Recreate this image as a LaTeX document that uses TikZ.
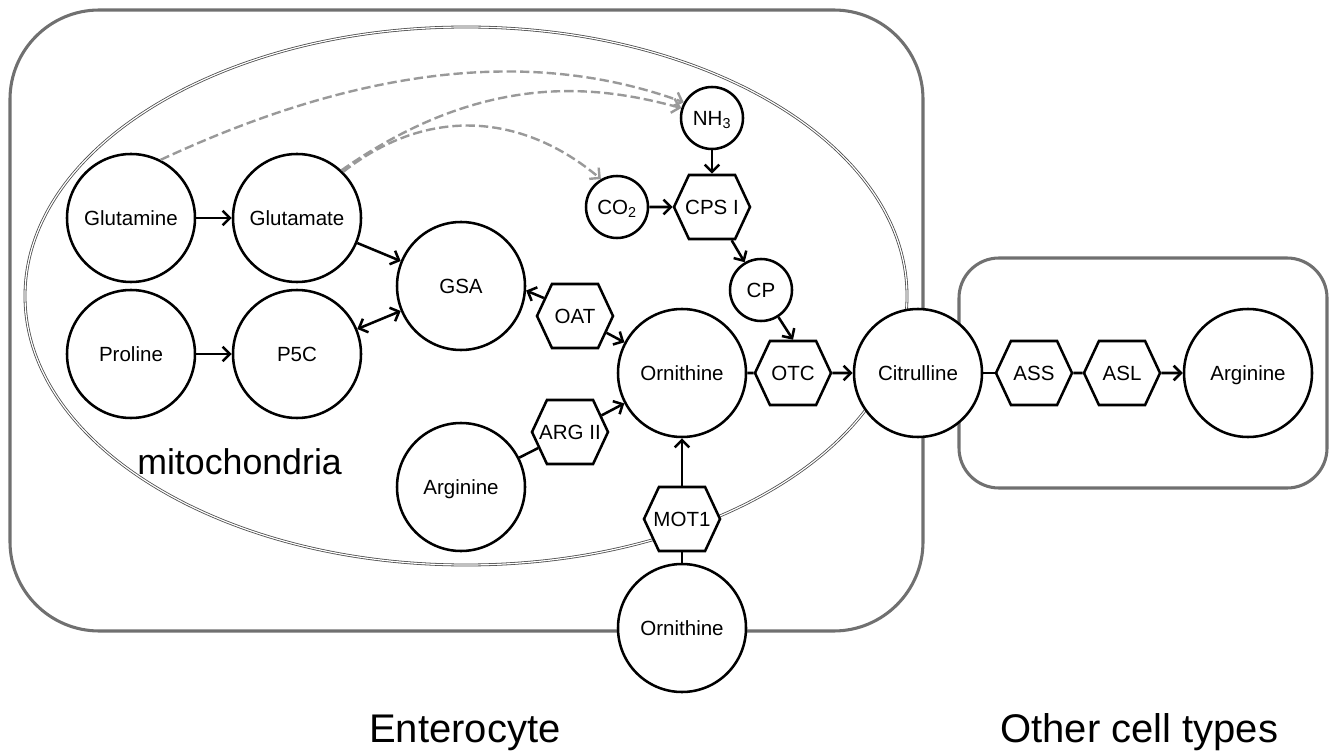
\documentclass[tikz,border=0pt]{standalone}
\usepackage{fontspec}
\setmainfont{Liberation Sans}
\usetikzlibrary{arrows.meta,shapes.symbols}
\begin{document}
\begin{tikzpicture}[x=0.75pt,y=0.75pt,
  >={Straight Barb[length=5.5pt,width=11pt]},
  nf/.style={font=\fontsize{15.4}{18}\selectfont,text height=11pt,text depth=0pt},
  big/.style={circle,draw=black,fill=white,line width=1.9pt,minimum size=96pt,inner sep=0pt,nf},
  small/.style={circle,draw=black,fill=white,line width=1.9pt,minimum size=46.5pt,inner sep=0pt,nf},
  hex/.style={signal,signal to=east and west,signal pointer angle=130,draw=black,fill=white,line width=1.9pt,minimum width=57pt,minimum height=48pt,inner sep=0pt,nf},
  plain/.style={line width=1.9pt},
  arr/.style={line width=1.9pt,->},
  darr/.style={line width=1.9pt,<->},
  gdash/.style={draw=black!40,line width=1.8pt,dash pattern=on 7pt off 3pt,-{Straight Barb[length=5.5pt,width=11pt]}},
  gbox/.style={draw=black!56,line width=2.3pt},
  mito/.style={draw=black!70,double=white,double distance=0.9pt,line width=0.6pt},
  lab/.style={inner sep=0pt,anchor=base west}
]
\useasboundingbox (0,0) rectangle (1334,-755);
% compartments
\draw[gbox,rounded corners=67pt] (10,-10) rectangle (923,-631);
\draw[gbox,rounded corners=30pt] (959,-258) rectangle (1327,-488);
\draw[mito] (466,-296) ellipse [x radius=441,y radius=269];
% nodes
\node[big] (gln) at (131,-218) {Glutamine};
\node[big] (glu) at (297,-218) {Glutamate};
\node[big] (pro) at (131,-354) {Proline};
\node[big] (p5c) at (297,-354) {P5C};
\node[big] (gsa) at (461,-286) {GSA};
\node[hex] (oat) at (575,-316) {\makebox[0pt]{OAT}};
\node[big] (orn) at (682,-373) {Ornithine};
\node[hex] (otc) at (793,-373) {\makebox[0pt]{OTC}};
\node[big] (cit) at (918,-373) {Citrulline};
\node[hex] (ass) at (1034,-373) {\makebox[0pt]{ASS}};
\node[hex] (asl) at (1122,-373) {\makebox[0pt]{ASL}};
\node[big] (argr) at (1248,-373) {Arginine};
\node[small] (nh3) at (712,-118) {NH\textsubscript{3}};
\node[small] (co2) at (617,-207) {CO\textsubscript{2}};
\node[hex] (cps) at (712,-207) {\makebox[0pt]{CPS I}};
\node[small] (cp) at (761,-290) {CP};
\node[hex] (arg2) at (570,-432) {\makebox[0pt]{ARG II}};
\node[big] (argl) at (461,-487) {Arginine};
\node[hex] (mot) at (682,-519) {\makebox[0pt]{MOT1}};
\node[big] (ornb) at (682,-628) {Ornithine};
% connectors
\draw[arr] (gln) -- (glu);
\draw[arr] (pro) -- (p5c);
\draw[arr] (glu) -- (gsa);
\draw[darr] (p5c) -- (gsa);
\draw[arr] (oat.150) -- (gsa.-4);
\draw[arr] (oat) -- (orn);
\draw[plain] (argl) -- (arg2);
\draw[arr] (arg2) -- (orn);
\draw[arr] (mot) -- (orn);
\draw[plain] (ornb) -- (mot);
\draw[plain] (orn) -- (otc);
\draw[arr] (otc) -- (cit);
\draw[plain] (cit) -- (ass);
\draw[plain] (ass) -- (asl);
\draw[arr] (asl) -- (argr);
\draw[arr] (nh3) -- (cps);
\draw[arr] (co2) -- (cps);
\draw[arr] (cps) -- (cp);
\draw[arr] (cp) -- (otc.north);
% dashed
\draw[gdash] (gln.63) .. controls +(25:260) and +(160:130) .. (nh3.151);
\draw[gdash] (glu.47) .. controls +(35:180) and +(165:80) .. (nh3.162);
\draw[gdash] (glu.45) .. controls +(38:110) and +(140:100) .. (co2.120);
% labels
\node[lab,font=\fontsize{26.8}{30}\selectfont] (mitolab) at (137,-474) {mitochondria};
\node[lab,font=\fontsize{30}{34}\selectfont] (entlab) at (369,-742) {Enterocyte};
\node[lab,font=\fontsize{30}{34}\selectfont] (othlab) at (1000,-742) {Other cell types};
\end{tikzpicture}
\end{document}
